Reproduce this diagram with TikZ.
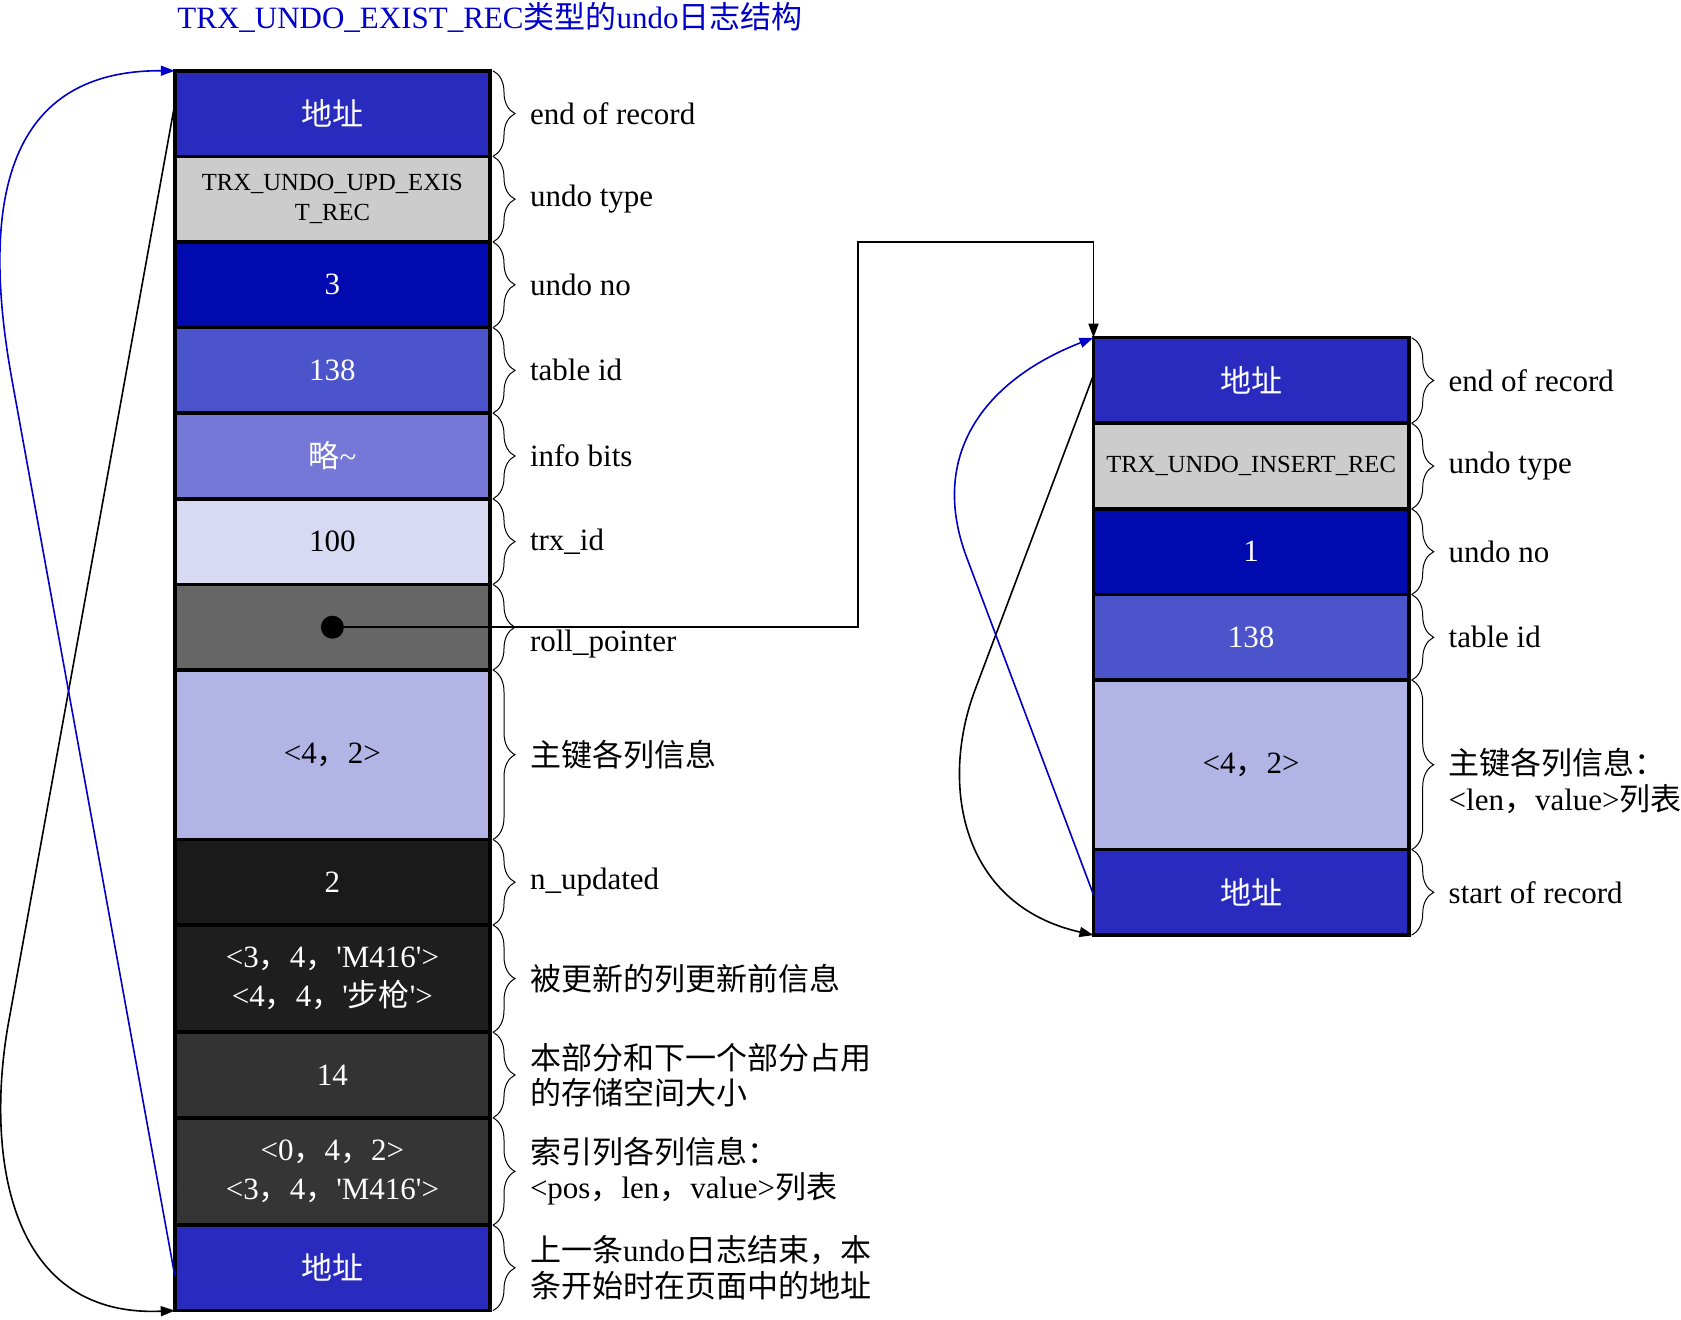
\documentclass[tikz,border=0pt]{standalone}
\usepackage{fontspec}
\setmainfont{Liberation Serif}
\newfontfamily\cjk{Noto Sans CJK SC}
\newcommand\zh[1]{{\cjk #1}}
\newcommand\sq{\textquotesingle}
\usetikzlibrary{positioning,decorations.pathreplacing,arrows.meta}
\definecolor{addr}{RGB}{41,43,190}
\definecolor{utype}{RGB}{204,204,204}
\definecolor{unum}{RGB}{0,10,175}
\definecolor{tid}{RGB}{76,84,204}
\definecolor{ibits}{RGB}{117,120,214}
\definecolor{trx}{RGB}{216,218,243}
\definecolor{rptr}{RGB}{102,102,102}
\definecolor{pkey}{RGB}{178,180,230}
\definecolor{nupd}{RGB}{26,26,26}
\definecolor{oldv}{RGB}{30,30,30}
\definecolor{sz}{RGB}{51,51,51}
\definecolor{idx}{RGB}{53,53,53}
\definecolor{lnblue}{RGB}{0,0,200}
\begin{document}
\begin{tikzpicture}[x=0.5pt,y=-0.5pt,
  fld/.style={draw,line width=1.8pt,minimum width=157.6pt,minimum height=42.8pt,inner sep=0pt,
    outer sep=0pt,align=center,text=white,font=\fontsize{15.5}{19.5}\selectfont},
  rowtall/.style={minimum height=84.7pt}, rowmid/.style={minimum height=53.6pt},
  smalltxt/.style={font=\fontsize{12.3}{15}\selectfont},
  brc/.style={decorate,decoration={brace,amplitude=11pt},line width=0.5pt},
  lbl/.style={anchor=west,inner sep=0pt,align=left,font=\fontsize{15.5}{17.7}\selectfont},
  lnk/.style={line width=0.8pt,-{Triangle[length=7pt,width=5pt]}}]
\useasboundingbox (0,0) rectangle (1681,1320);

\node[anchor=west,inner sep=0pt,text=lnblue,font=\fontsize{15.5}{18}\selectfont] (title) at (177,17)
  {TRX\_UNDO\_EXIST\_REC\zh{类型的}undo\zh{日志结构}};

% update undo record
\node[fld,fill=addr] (a1) at (332.4,113.6) {\zh{地址}};
\node[fld,fill=utype,text=black,smalltxt,below=0pt of a1] (a2) {TRX\_UNDO\_UPD\_EXIS\\T\_REC};
\node[fld,fill=unum,below=0pt of a2] (a3) {3};
\node[fld,fill=tid,below=0pt of a3] (a4) {138};
\node[fld,fill=ibits,below=0pt of a4] (a5) {\zh{略}\textasciitilde};
\node[fld,fill=trx,text=black,below=0pt of a5] (a6) {100};
\node[fld,fill=rptr,below=0pt of a6] (a7) {};
\node[fld,fill=pkey,text=black,rowtall,below=0pt of a7] (a8) {<4\zh{，}2>};
\node[fld,fill=nupd,below=0pt of a8] (a9) {2};
\node[fld,fill=oldv,rowmid,below=0pt of a9] (a10) {<3\zh{，}4\zh{，}\sq M416\sq>\\<4\zh{，}4\zh{，}\sq\zh{步枪}\sq>};
\node[fld,fill=sz,below=0pt of a10] (a11) {14};
\node[fld,fill=idx,rowmid,below=0pt of a11] (a12) {<0\zh{，}4\zh{，}2>\\<3\zh{，}4\zh{，}\sq M416\sq>};
\node[fld,fill=addr,below=0pt of a12] (a13) {\zh{地址}};
\node[circle,fill=black,inner sep=0pt,minimum size=11.5pt] (dot) at (a7) {};

% insert undo record
\node[fld,fill=addr] (r1) at (1251.1,380.5) {\zh{地址}};
\node[fld,fill=utype,text=black,smalltxt,below=0pt of r1] (r2) {TRX\_UNDO\_INSERT\_REC};
\node[fld,fill=unum,below=0pt of r2] (r3) {1};
\node[fld,fill=tid,below=0pt of r3] (r4) {138};
\node[fld,fill=pkey,text=black,rowtall,below=0pt of r4] (r5) {<4\zh{，}2>};
\node[fld,fill=addr,below=0pt of r5] (r6) {\zh{地址}};

% braces and labels
\foreach \i in {1,...,13} \draw[brc] ([xshift=1.5pt]a\i.north east) -- ([xshift=1.5pt]a\i.south east);
\foreach \i in {1,...,6} \draw[brc] ([xshift=1.5pt]r\i.north east) -- ([xshift=1.5pt]r\i.south east);
\foreach \c/\t in {a1/end of record,a2/undo type,a3/undo no,a4/table id,a5/info bits,a6/trx\_id,
  a8/\zh{主键各列信息},a9/n\_updated,a10/\zh{被更新的列更新前信息},
  a11/{\zh{本部分和下一个部分占用}\\\zh{的存储空间大小}},
  a12/{\zh{索引列各列信息：}\\<pos\zh{，}len\zh{，}value>\zh{列表}},
  a13/{\zh{上一条}undo\zh{日志结束，本}\\\zh{条开始时在页面中的地址}},
  r1/end of record,r2/undo type,r3/undo no,r4/table id,r6/start of record}
  \node[lbl] at ([xshift=19.8pt]\c.east) {\t};
\node[lbl] (rplbl) at ([xshift=19.8pt,yshift=-8.4pt]a7.east) {roll\_pointer};
\node[lbl] (pklbl) at ([xshift=19.8pt,yshift=-8pt]r5.east) {\zh{主键各列信息：}\\<len\zh{，}value>\zh{列表}};

% roll pointer
\coordinate (hop) at (857.7,242.3);
\draw[lnk] (dot) -| (hop) -| (r1.north west);

% start / end links
\coordinate (bk1) at (9,1020); \coordinate (bl1) at (12,380);
\draw[lnk] ([yshift=4.8pt]a1.west) -- (bk1) .. controls (-13.8,1143) and (2,1318) .. (a13.south west);
\draw[lnk,lnblue] ([yshift=-4pt]a13.west) -- (bl1) .. controls (-18.3,212.7) and (0,70) .. (a1.north west);
\coordinate (bk2) at (975,690); \coordinate (bl2) at (966.7,557.5);
\draw[lnk] ([yshift=2.75pt]r1.west) -- (bk2) .. controls (939.8,783.6) and (960,905) .. (r6.south west);
\draw[lnk,lnblue] ([yshift=-1.25pt]r6.west) -- (bl2) .. controls (928,454.5) and (985,380) .. (r1.north west);
\end{tikzpicture}
\end{document}
